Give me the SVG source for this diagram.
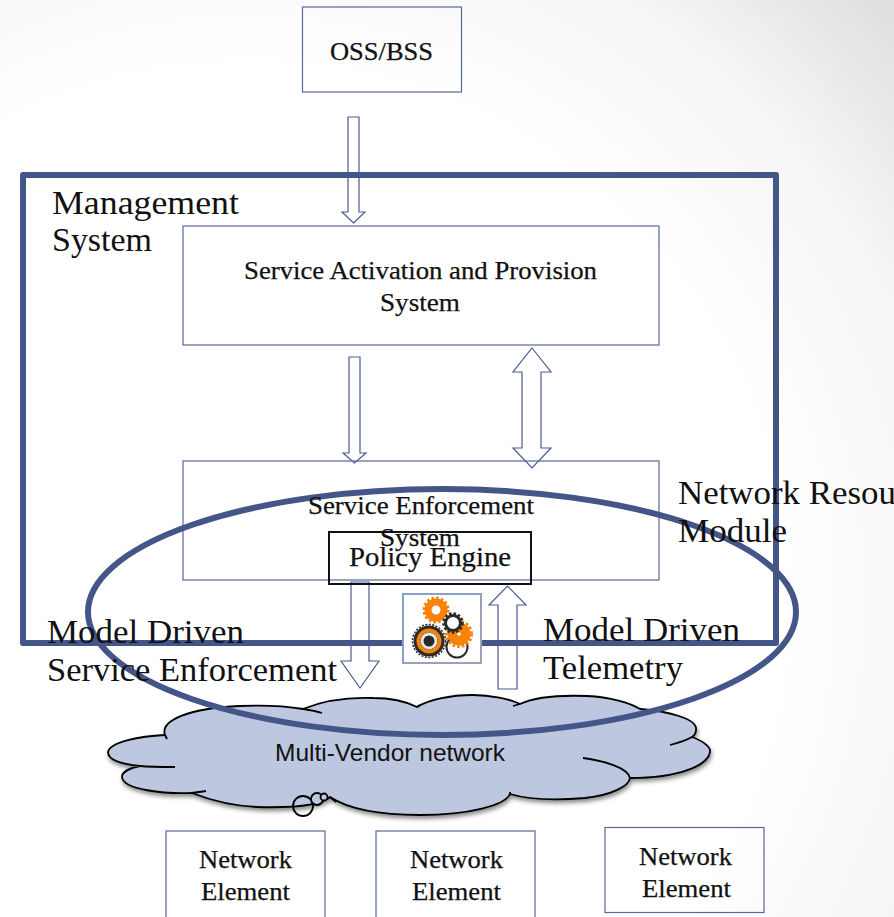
<svg xmlns="http://www.w3.org/2000/svg" width="894" height="917" viewBox="0 0 894 917">
<style>
.box{fill:none;stroke:#55689c;stroke-width:1.2}
.arr{fill:none;stroke:#4a5c92;stroke-width:1.2}
.t{font-family:"Liberation Serif",serif;fill:#111;stroke:#111;stroke-width:.25;font-size:25px}
.b{font-family:"Liberation Serif",serif;fill:#111;font-size:33px}
.thick{fill:none;stroke:#445588;stroke-width:6;stroke-linejoin:round}
.cl{fill:none;stroke:#000;stroke-width:1.800}
</style>
<defs>
<radialGradient id="bg" gradientUnits="userSpaceOnUse" cx="250" cy="600" r="880">
<stop offset="0" stop-color="#fff"/><stop offset="0.6" stop-color="#fff"/><stop offset="0.8" stop-color="#f6f6f6"/><stop offset="1" stop-color="#dedede"/>
</radialGradient>
<filter id="sh" x="-5%" y="-5%" width="110%" height="115%"><feDropShadow dx="1" dy="3" stdDeviation="2" flood-color="#000" flood-opacity="0.45"/></filter>
</defs>
<rect id="background" width="894" height="917" fill="url(#bg)"/>
<g id="connectors">
<path class="arr" d="M348 117H359V212H365L353.500 223L342 212H348Z"/>
<path class="arr" d="M349 357H360V453H366L354.500 463L343 453H349Z"/>
<path class="arr" d="M532 348L551 372H541V448H551L532 468L513 448H522V372H513Z"/>
<path class="arr" d="M351 582H369V661H379L360 688L341 661H351Z"/>
<path class="arr" d="M498 689H517V605H526L507.500 586L489 605H498Z"/>
</g>
<g id="oss"><rect class="box" x="302.500" y="7" width="159" height="85"/><text class="t" x="330" y="60" textLength="103" lengthAdjust="spacingAndGlyphs">OSS/BSS</text></g>
<g id="activation"><rect class="box" x="183" y="226" width="476" height="119"/>
<text class="t" x="244" y="279" textLength="353" lengthAdjust="spacingAndGlyphs">Service Activation and Provision</text>
<text class="t" x="380" y="311" textLength="80" lengthAdjust="spacingAndGlyphs">System</text></g>
<g id="enforcement"><rect class="box" x="183" y="461" width="476" height="119"/></g>
<g id="management"><rect class="thick" x="23" y="175" width="753" height="468"/></g>
<g id="cloud">
<path filter="url(#sh)" fill="#bdc7e0" stroke="#000" stroke-width="1.800" d="M165 735C160 720 190 708 240 706C265 705 285 706 303 709C320 702 345 697 373 698C390 698 405 701 417 707C428 700 450 695 473 695C490 695 510 699 520 704C535 697 560 695 587 696C610 697 630 703 640 709C665 711 698 718 696 730C696 733 695 735 692 737C703 741 711 747 710 752C708 765 680 778 630 778C629 786 612 795 585 798C560 800 530 800 510 794C505 805 470 815 420 815C385 815 350 810 330 797C320 806 290 808 257 807C235 806 210 800 192 793C165 794 123 790 122 777C122 772 130 768 140 766C120 764 108 760 108 752C110 742 140 736 165 735Z"/>
<path class="cl" d="M165 735L167 739"/><path class="cl" d="M140 766C150 767 162 767 175 767"/><path class="cl" d="M192 793C197 792 201 792 206 791"/>
<path class="cl" d="M303 709C310 710 316 711 322 713"/><path class="cl" d="M417 707L420 705"/><path class="cl" d="M520 704L513 706"/>
<path class="cl" d="M692 737C685 741 678 743 670 745"/><path class="cl" d="M630 778C628 768 605 761 583 758"/><path class="cl" d="M510 794L510 792"/><path class="cl" d="M330 797L336 802"/>
<circle cx="303" cy="806" r="10" class="cl"/>
<circle cx="317" cy="799" r="6" fill="#bdc7e0" stroke="#000" stroke-width="1.800"/>
<circle cx="324" cy="797" r="3.500" fill="#bdc7e0" stroke="#000" stroke-width="1.800"/>
<text x="275" y="761" font-family="'Liberation Sans',Arial,sans-serif" font-size="24px" fill="#111" textLength="230" lengthAdjust="spacingAndGlyphs">Multi-Vendor network</text>
</g>
<g id="policy-ring"><ellipse class="thick" cx="442" cy="612" rx="354" ry="123"/></g>
<g id="enforcement-label">
<text class="t" x="308" y="514" textLength="226" lengthAdjust="spacingAndGlyphs">Service Enforcement</text>
<text class="t" x="380" y="546" textLength="80" lengthAdjust="spacingAndGlyphs">System</text></g>
<g id="policy-engine"><rect x="329" y="532" width="202" height="52" fill="none" stroke="#111" stroke-width="2"/>
<text class="t" x="349" y="566" textLength="162" lengthAdjust="spacingAndGlyphs" style="font-size:28px">Policy Engine</text></g>
<g id="gears">
<rect x="403" y="594" width="78" height="69" fill="#fff" stroke="#86a0c8" stroke-width="2"/>
<path d="M481 594V663H403" fill="none" stroke="#9aa3b4" stroke-width="2"/>
<circle cx="436" cy="610" r="8" fill="none" stroke="#f98208" stroke-width="7"/>
<circle cx="436" cy="610" r="12" fill="none" stroke="#f98208" stroke-width="3" stroke-dasharray="2.500 2.200"/>
<circle cx="457" cy="647" r="10.500" fill="none" stroke="#2a2a2a" stroke-width="2"/>
<circle cx="459" cy="634" r="11.500" fill="#f98208"/>
<circle cx="459" cy="634" r="1.800" fill="#fff"/>
<circle cx="459" cy="634" r="12.500" fill="none" stroke="#f98208" stroke-width="3" stroke-dasharray="2.500 2.200"/>
<circle cx="453" cy="623" r="7.500" fill="#fff" stroke="#2a2a2a" stroke-width="3"/>
<circle cx="453" cy="623" r="9.500" fill="none" stroke="#2a2a2a" stroke-width="2.500" stroke-dasharray="2.500 2"/>
<circle cx="429" cy="641" r="14" fill="#f98208" stroke="#2a2a2a" stroke-width="3"/>
<circle cx="429" cy="641" r="16.500" fill="none" stroke="#2a2a2a" stroke-width="1.500" stroke-dasharray="2 1.500"/>
<circle cx="429" cy="641" r="8.500" fill="#e8e8e8" stroke="#555" stroke-width="1" stroke-dasharray="1.500 1.500"/>
<circle cx="429" cy="641" r="5.500" fill="#2a2a2a"/>
</g>
<g id="labels">
<text class="b" x="52" y="214" textLength="187" lengthAdjust="spacingAndGlyphs">Management</text>
<text class="b" x="52" y="251" textLength="100" lengthAdjust="spacingAndGlyphs">System</text>
<text class="b" x="678" y="504" textLength="218" lengthAdjust="spacingAndGlyphs">Network Resou</text>
<text class="b" x="678" y="542" textLength="109" lengthAdjust="spacingAndGlyphs">Module</text>
<text class="b" x="47" y="643" textLength="197" lengthAdjust="spacingAndGlyphs">Model Driven</text>
<text class="b" x="47" y="681" textLength="290" lengthAdjust="spacingAndGlyphs">Service Enforcement</text>
<text class="b" x="543" y="641" textLength="197" lengthAdjust="spacingAndGlyphs">Model Driven</text>
<text class="b" x="543" y="679" textLength="140" lengthAdjust="spacingAndGlyphs">Telemetry</text>
</g>
<g id="ne1"><rect class="box" x="166" y="831" width="159" height="90"/><text class="t" x="199" y="868" textLength="93" lengthAdjust="spacingAndGlyphs">Network</text><text class="t" x="201" y="900" textLength="89" lengthAdjust="spacingAndGlyphs">Element</text></g>
<g id="ne2"><rect class="box" x="376" y="831" width="159" height="90"/><text class="t" x="410" y="868" textLength="93" lengthAdjust="spacingAndGlyphs">Network</text><text class="t" x="412" y="900" textLength="89" lengthAdjust="spacingAndGlyphs">Element</text></g>
<g id="ne3"><rect class="box" x="605" y="827.500" width="159" height="85"/><text class="t" x="639" y="865" textLength="93" lengthAdjust="spacingAndGlyphs">Network</text><text class="t" x="642" y="897" textLength="89" lengthAdjust="spacingAndGlyphs">Element</text></g>
</svg>
